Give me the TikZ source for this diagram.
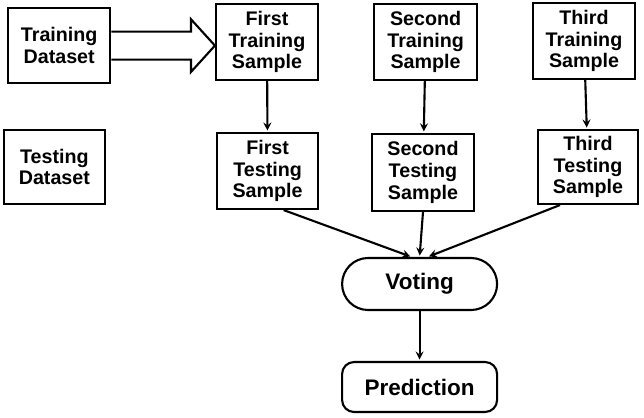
\documentclass[tikz,border=0pt]{standalone}
\usepackage{fontspec}
\setmainfont{Liberation Sans}
\tikzset{>=stealth}
\usetikzlibrary{shapes,positioning}
\colorlet{penColor}{black}
\tikzset{
	box/.style={draw=penColor, line width=1.5pt, align=center, inner sep=1pt,
		font=\bfseries\fontsize{14}{15.5}\selectfont},
	endbox/.style={draw=penColor, line width=1.5pt, minimum width=3.875cm,
		font=\bfseries\fontsize{16}{18}\selectfont},
	link/.style={->, penColor, line width=1.5pt, shorten >=1pt}
}
\begin{document}
\begin{tikzpicture}
		\useasboundingbox (0,0) rectangle (16.1,-10.45);
		\node [box, minimum width=2.55cm, minimum height=1.875cm] (trainset) at (1.48,-1.14) {Training\\Dataset};
		\node [box, minimum width=2.525cm, minimum height=1.85cm] (testset) at (1.36,-4.175) {Testing\\Dataset};
		\node [box, minimum width=2.55cm, minimum height=1.9cm] (tr1) at (6.675,-1.05) {First\\Training\\Sample};
		\node [box, minimum width=2.575cm, minimum height=1.9cm] (tr2) at (10.64,-1.05) {Second\\Training\\Sample};
		\node [box, minimum width=2.55cm, minimum height=1.9cm] (tr3) at (14.6,-1.025) {Third\\Training\\Sample};
		\node [box, minimum width=2.525cm, minimum height=1.9cm] (te1) at (6.69,-4.275) {First\\Testing\\Sample};
		\node [box, minimum width=2.55cm, minimum height=1.925cm] (te2) at (10.575,-4.31) {Second\\Testing\\Sample};
		\node [box, minimum width=2.5cm, minimum height=1.85cm] (te3) at (14.7,-4.175) {Third\\Testing\\Sample};
		\node [endbox, rounded corners=0.65cm, minimum height=1.3cm] (voting) at (10.49,-7.1) {Voting};
		\node [endbox, rounded corners=0.3cm, minimum height=1.25cm] (prediction) at (10.49,-9.675) {Prediction};
		\coordinate (tip) at (tr1.west |- trainset.east);
		\draw [penColor, line width=1.5pt, line join=miter] ([yshift=0.35cm]trainset.east) -- ([xshift=-0.6cm,yshift=0.35cm]tip)
			-- ([xshift=-0.6cm,yshift=0.66cm]tip) -- (tip) -- ([xshift=-0.6cm,yshift=-0.66cm]tip)
			-- ([xshift=-0.6cm,yshift=-0.35cm]tip) -- ([yshift=-0.35cm]trainset.east);
		\draw [link] (tr1) -- (te1);
		\draw [link] (tr2) -- (te2);
		\draw [link] (tr3) -- (te3);
		\draw [link] ([xshift=0.4cm]te1.south) -- ([xshift=-0.2cm]voting.north);
		\draw [link] (te2.south) -- (voting.north);
		\draw [link] ([xshift=-0.7cm]te3.south) -- ([xshift=0.2cm]voting.north);
		\draw [link] (voting) -- (prediction);
		\end{tikzpicture}
\end{document}
